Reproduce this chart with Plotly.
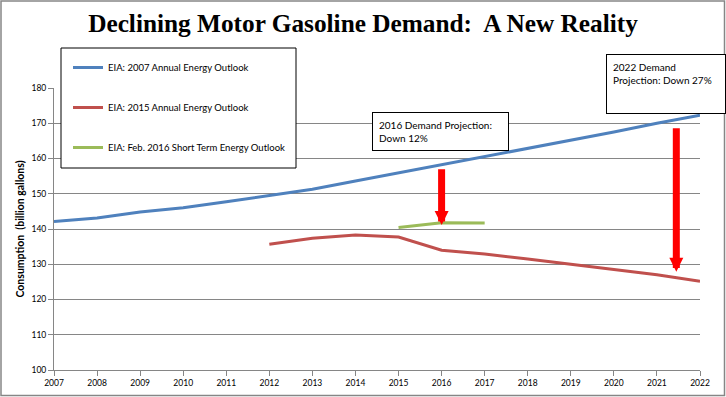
import plotly.graph_objects as go

years = list(range(2007, 2023))
aeo2007 = [142.1, 143.1, 144.8, 146.0, 147.7, 149.4, 151.3, 153.6, 155.9, 158.2, 160.4, 162.7, 165.0, 167.5, 170.0, 172.3]
aeo2015_years = list(range(2012, 2023))
aeo2015 = [135.7, 137.4, 138.3, 137.7, 134.0, 132.9, 131.5, 130.0, 128.6, 127.0, 125.2]
steo_years = [2015, 2016, 2017]
steo2016 = [140.4, 141.8, 141.7]

arrow_x = [2016, 2021.45]
arrow_tail = [157.4, 169.0]
arrow_head = [141.1, 127.9]

y_ticks = [100, 110, 120, 130, 140, 150, 160, 170, 180]

W, H = 726, 397
L, R, T, B = 54, 700, 88, 370
def px(x):
    return (x - L) / (R - L)
def py(y):
    return (B - y) / (B - T)

fnt = "Lato, Liberation Sans, sans-serif"

fig = go.Figure()
fig.add_trace(go.Scatter(x=years, y=aeo2007, mode="lines", name="EIA: 2007 Annual Energy Outlook",
                         line=dict(color="#4F81BD", width=3), legendgroup="a"))
fig.add_trace(go.Scatter(x=aeo2015_years, y=aeo2015, mode="lines", name="EIA: 2015 Annual Energy Outlook",
                         line=dict(color="#C0504D", width=3), legendgroup="b"))
fig.add_trace(go.Scatter(x=steo_years, y=steo2016, mode="lines", name="EIA: Feb. 2016 Short Term Energy Outlook",
                         line=dict(color="#9BBB59", width=3), legendgroup="c"))

annotations = []
for xa, yt, yh in zip(arrow_x, arrow_tail, arrow_head):
    annotations.append(dict(x=xa, y=yh, ax=xa, ay=yt, xref="x", yref="y", axref="x", ayref="y",
                            text="", showarrow=True, arrowhead=2, arrowsize=0.4, arrowwidth=7,
                            arrowcolor="#FF0000"))

annotations.append(dict(xref="paper", yref="paper", x=px(372), y=py(112), xanchor="left", yanchor="top",
                        text="2016 Demand Projection:<br>Down 12%", showarrow=False, align="left",
                        width=123, height=25, valign="top",
                        bordercolor="black", borderwidth=1, borderpad=6, bgcolor="white",
                        font=dict(family=fnt, size=10, color="black")))
annotations.append(dict(xref="paper", yref="paper", x=px(606), y=py(54), xanchor="left", yanchor="top",
                        text="2022 Demand<br>Projection: Down 27%", showarrow=False, align="left",
                        width=106, height=46, valign="top",
                        bordercolor="black", borderwidth=1, borderpad=6, bgcolor="white",
                        font=dict(family=fnt, size=10, color="black")))

shapes = [
    dict(type="rect", xref="paper", yref="paper", x0=px(1), x1=px(724.5), y0=py(395.5), y1=py(1),
         line=dict(color="#868686", width=1.5), fillcolor="rgba(0,0,0,0)", layer="above"),
    dict(type="rect", xref="paper", yref="paper", x0=px(61), x1=px(296), y0=py(168), y1=py(48),
         line=dict(color="black", width=1), fillcolor="white", layer="above"),
]

fig.update_layout(
    width=W, height=H,
    margin=dict(l=L, r=W - R, t=T, b=H - B, autoexpand=False),
    paper_bgcolor="white", plot_bgcolor="white",
    title=dict(text="<b>Declining Motor Gasoline Demand:  A New Reality</b>",
               x=363 / W, xref="container", xanchor="center",
               y=1 - 23 / H, yref="container", yanchor="middle",
               font=dict(family="Liberation Serif, serif", size=25.3, color="black")),
    xaxis=dict(range=[2007, 2022], tickmode="array", tickvals=years, ticktext=[str(y) for y in years],
               showgrid=False, showline=True, linecolor="#868686", linewidth=1,
               ticks="outside", ticklen=5, tickcolor="#868686", automargin=False,
               tickfont=dict(family=fnt, size=8.5, color="black"), zeroline=False),
    yaxis=dict(range=[100, 180], tickmode="array", tickvals=y_ticks,
               showgrid=True, gridcolor="#868686", gridwidth=1,
               showline=True, linecolor="#868686", linewidth=1,
               ticks="outside", ticklen=5, tickcolor="#868686", automargin=False,
               tickfont=dict(family=fnt, size=8.5, color="black"), zeroline=False,
               title=dict(text="<b>Consumption  (billion gallons)</b>", standoff=4,
                          font=dict(family=fnt, size=10.5, color="black"))),
    legend=dict(x=px(68), y=py(53), xanchor="left", yanchor="top",
                bgcolor="rgba(0,0,0,0)", borderwidth=0, tracegroupgap=21,
                traceorder="grouped", itemwidth=30,
                font=dict(family=fnt, size=9.5, color="black")),
    showlegend=True,
    annotations=annotations,
    shapes=shapes,
)

fig.write_html("out.html", config={"displayModeBar": False},
               post_script="document.body.style.margin='0';document.body.style.overflow='hidden';")
